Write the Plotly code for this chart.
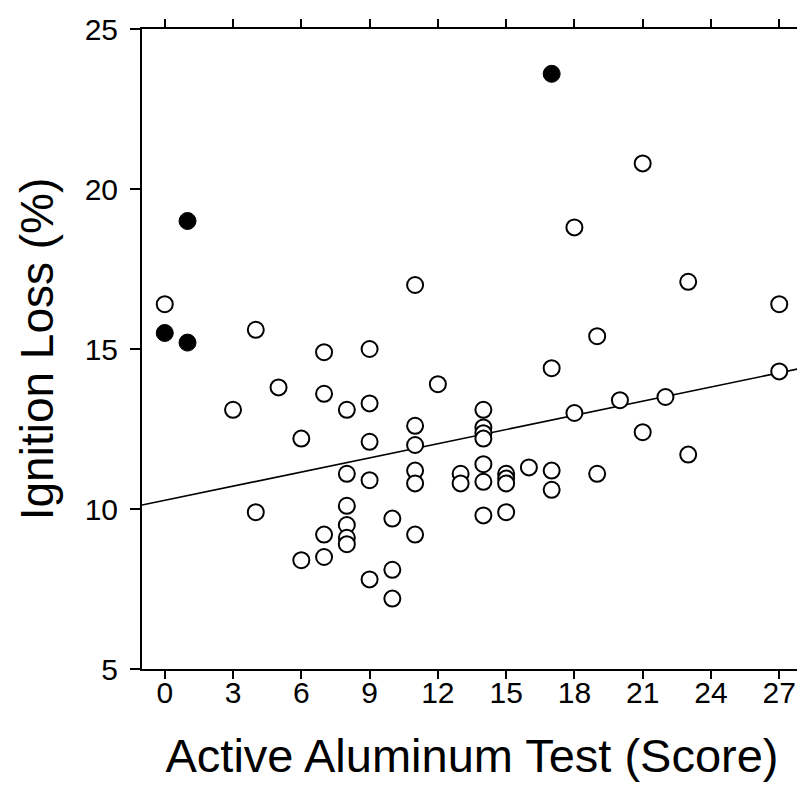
import plotly.graph_objects as go

# Open-circle samples: Active Aluminum Test score vs Ignition Loss (%)
open_score = [0, 3, 4, 4, 5, 6, 6, 7, 7, 7, 7,
              8, 8, 8, 8, 8, 8,
              9, 9, 9, 9, 9,
              10, 10, 10,
              11, 11, 11, 11, 11, 11, 12, 13, 13,
              14, 14, 14, 14, 14, 14, 14,
              15, 15, 15, 15, 16, 17, 17, 17,
              18, 18, 19, 19, 20, 21, 21, 22, 23, 23, 27, 27]
open_loss = [16.4, 13.1, 15.6, 9.9, 13.8, 12.2, 8.4, 14.9, 13.6, 9.2, 8.5,
             13.1, 11.1, 10.1, 9.5, 9.1, 8.9,
             15.0, 13.3, 12.1, 10.9, 7.8,
             9.7, 8.1, 7.2,
             17.0, 12.6, 12.0, 11.2, 10.8, 9.2, 13.9, 11.1, 10.8,
             13.1, 12.55, 12.37, 12.2, 11.4, 10.85, 9.8,
             11.1, 10.95, 10.8, 9.9, 11.3, 14.4, 11.2, 10.6,
             18.8, 13.0, 15.4, 11.1, 13.4, 20.8, 12.4, 13.5, 17.1, 11.7, 16.4, 14.3]

# Filled-circle samples
filled_score = [0, 1, 1, 17]
filled_loss = [15.5, 19.0, 15.2, 23.6]

# Regression line
fit_intercept = 10.27
fit_slope = 0.1476
fit_x = [-1, 28]
fit_y = [fit_intercept + fit_slope * x for x in fit_x]

x_ticks = [0, 3, 6, 9, 12, 15, 18, 21, 24, 27]
y_ticks = [5, 10, 15, 20, 25]

FONT = "Liberation Sans, Arial, sans-serif"

fig = go.Figure()
fig.add_trace(go.Scatter(x=fit_x, y=fit_y, mode="lines",
                         line=dict(color="black", width=1.6),
                         showlegend=False, hoverinfo="skip"))
fig.add_trace(go.Scatter(x=open_score, y=open_loss, mode="markers",
                         marker=dict(size=16, color="white", symbol="circle",
                                     line=dict(color="black", width=2)),
                         showlegend=False))
fig.add_trace(go.Scatter(x=filled_score, y=filled_loss, mode="markers",
                         marker=dict(size=17, color="black", symbol="circle",
                                     line=dict(color="black", width=1)),
                         showlegend=False))

fig.update_layout(
    width=797, height=781, autosize=False,
    margin=dict(l=134, r=3, t=21, b=120, pad=0, autoexpand=False),
    paper_bgcolor="white", plot_bgcolor="white",
    font=dict(family=FONT, color="black"),
    xaxis=dict(range=[-1, 28], tickvals=x_ticks, ticks="outside", ticklen=8,
               tickwidth=2, tickcolor="black", showline=True, linewidth=2,
               linecolor="black", mirror="ticks", showgrid=False, zeroline=False,
               automargin=False,
               tickfont=dict(size=30, family=FONT), ticklabelstandoff=-12,
               title=dict(text="Active Aluminum Test (Score)",
                          font=dict(size=47, family=FONT), standoff=31)),
    yaxis=dict(range=[5, 25], tickvals=y_ticks, ticks="outside", ticklen=10,
               tickwidth=2, tickcolor="black", showline=True, linewidth=2,
               linecolor="black", mirror="ticks", showgrid=False, zeroline=False,
               automargin=False,
               tickfont=dict(size=30, family=FONT), ticklabelstandoff=6,
               title=dict(text="Ignition Loss (%)",
                          font=dict(size=46, family=FONT), standoff=17)),
)

fig.write_html("out.html")
